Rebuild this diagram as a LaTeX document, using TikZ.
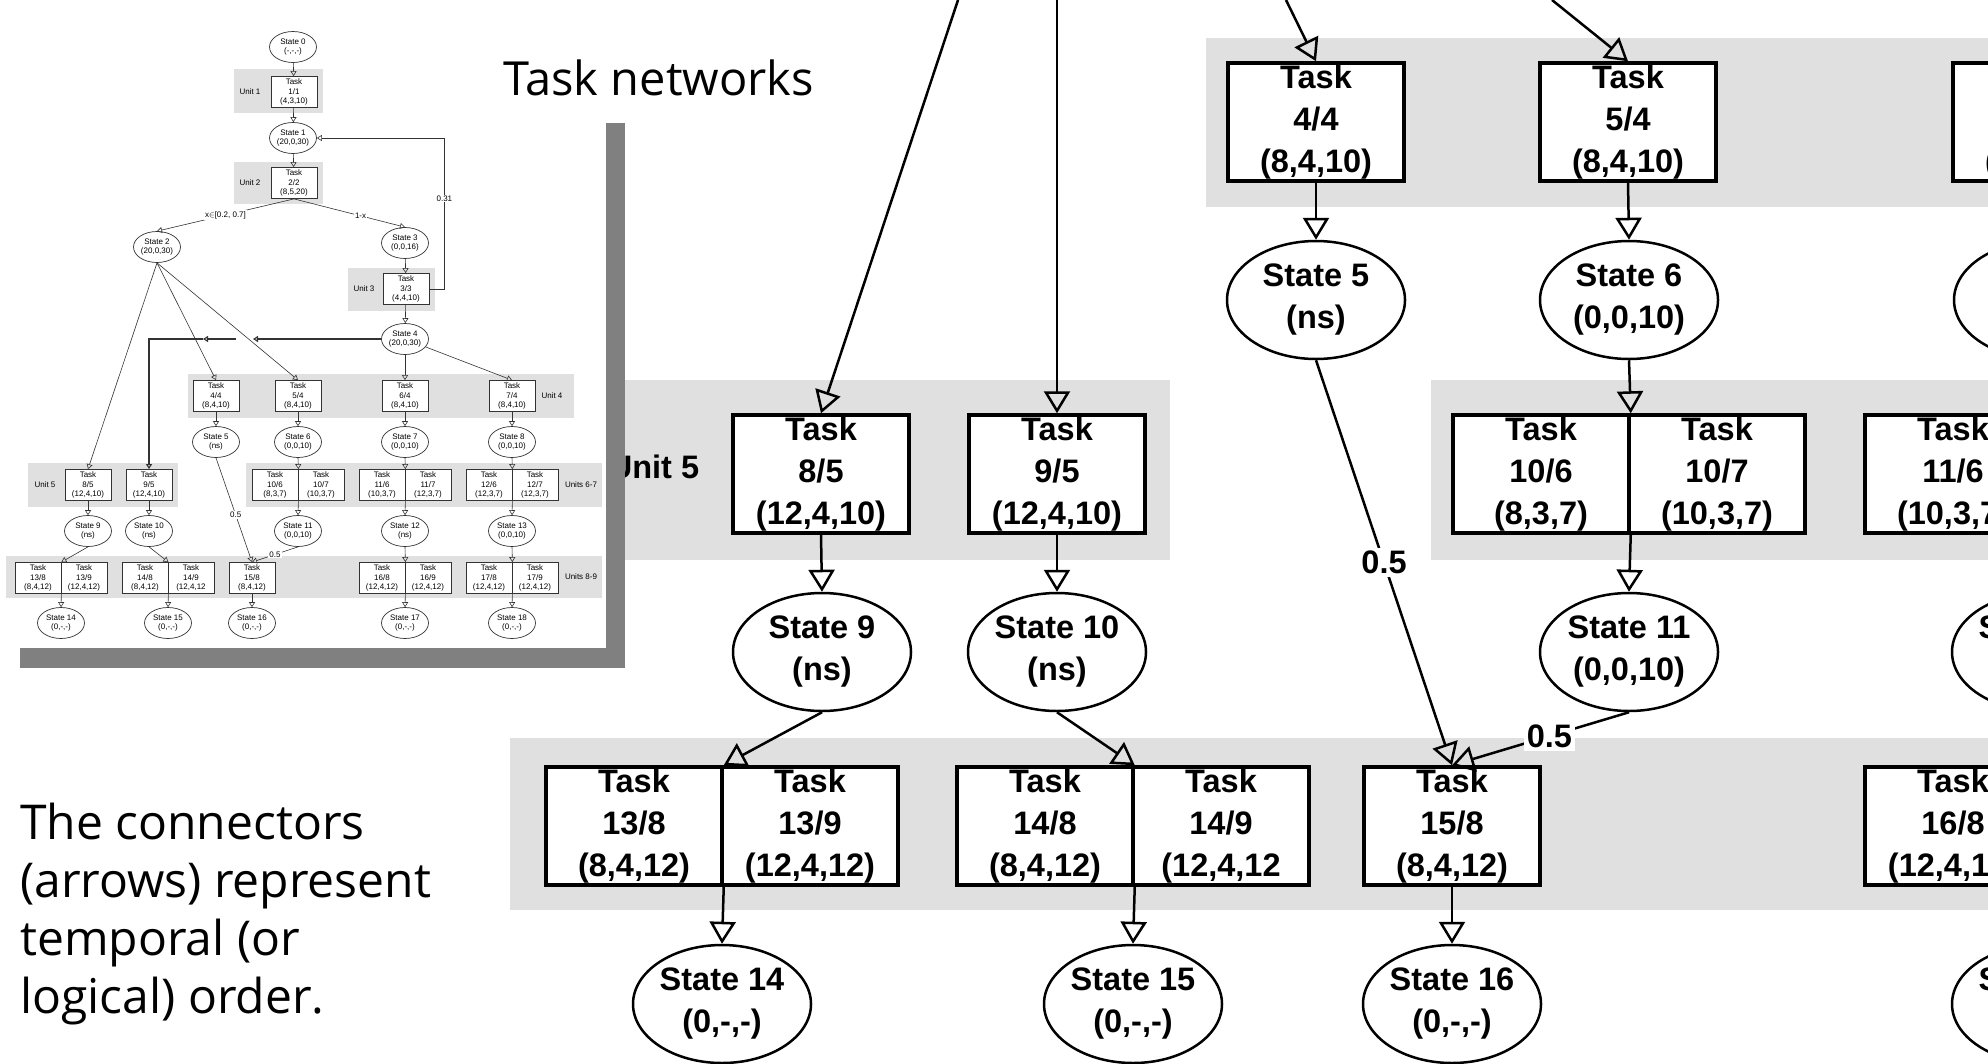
\documentclass[tikz,border=0pt]{standalone}
\usepackage{fontspec}
\setmainfont{Liberation Sans}
\newfontfamily\handfont{Open Sans}
\usetikzlibrary{arrows.meta,shapes.geometric}
\definecolor{bandgray}{HTML}{E0E0E0}
\definecolor{shadowgray}{HTML}{808080}
\definecolor{thumbline}{HTML}{333333}

\tikzset{
    task/.style = {draw, rectangle, fill = white, line width = 3.5pt, minimum width = 176pt, minimum height = 118pt, inner sep = 0pt, align = center, font = \fontsize{32.5}{42}\selectfont\bfseries},
    state/.style = {draw, ellipse, fill = white, line width = 2.5pt, minimum width = 178pt, minimum height = 118pt, inner sep = 0pt, align = center, font = \fontsize{32.5}{42}\selectfont\bfseries},
    link/.style = {-{Triangle[open, width = 26pt, length = 22pt]}, line width = 2.5pt},
    prob/.style = {fill = white, inner sep = 3pt, font = \fontsize{32.5}{36}\selectfont\bfseries},
    unitlabel/.style = {font = \fontsize{32.5}{36}\selectfont\bfseries},
    ttask/.style = {draw = thumbline, rectangle, fill = white, line width = 0.8pt, minimum width = 46pt, minimum height = 31pt, inner sep = 0pt, align = center, font = \fontsize{8}{9.5}\selectfont},
    tstate/.style = {draw = thumbline, ellipse, fill = white, line width = 0.7pt, minimum width = 47pt, minimum height = 31pt, inner sep = 0pt, align = center, font = \fontsize{8}{9.5}\selectfont},
    tlink/.style = {-{Triangle[open, width = 6pt, length = 5pt]}, draw = thumbline, line width = 0.6pt},
    tprob/.style = {fill = white, inner sep = 1pt, font = \fontsize{8}{9}\selectfont},
    tunit/.style = {font = \fontsize{8}{9}\selectfont}
}

\begin{document}
\begin{tikzpicture}
        \useasboundingbox (0pt, 0pt) rectangle (1988pt, -1063pt);
        \clip (0pt, 0pt) rectangle (1988pt, -1063pt);
        \fill [white] (0pt, 0pt) rectangle (1988pt, -1063pt);

        % Unit bands
        \fill [bandgray] (1206pt, -38pt) rectangle (1995pt, -207pt);
        \fill [bandgray] (510pt, -380pt) rectangle (1170pt, -560pt);
        \fill [bandgray] (1431pt, -380pt) rectangle (1995pt, -560pt);
        \fill [bandgray] (510pt, -738pt) rectangle (1995pt, -910pt);
        \node [unitlabel] (u5) at (654pt, -467pt) {Unit 5};

        % Nodes
        \node [task] (t44) at (1316pt, -122pt) {Task\\4/4\\(8,4,10)};
        \node [task] (t54) at (1628pt, -122pt) {Task\\5/4\\(8,4,10)};
        \node [task] (t64) at (2041pt, -122pt) {Task\\6/4\\(8,4,10)};
        \node [state] (s5) at (1316pt, -300pt) {State 5\\(ns)};
        \node [state] (s6) at (1629pt, -300pt) {State 6\\(0,0,10)};
        \node [state] (s7) at (2043pt, -300pt) {State 7\\(0,0,10)};

        \node [task] (t85) at (821pt, -474pt) {Task\\8/5\\(12,4,10)};
        \node [task] (t95) at (1057pt, -474pt) {Task\\9/5\\(12,4,10)};
        \node [task] (t106) at (1541pt, -474pt) {Task\\10/6\\(8,3,7)};
        \node [task] (t107) at (1717pt, -474pt) {Task\\10/7\\(10,3,7)};
        \node [task] (t116) at (1953pt, -474pt) {Task\\11/6\\(10,3,7)};
        \node [task] (t117) at (2129pt, -474pt) {Task\\11/7\\(12,3,7)};

        \node [state] (s9) at (822pt, -652pt) {State 9\\(ns)};
        \node [state] (s10) at (1057pt, -652pt) {State 10\\(ns)};
        \node [state] (s11) at (1629pt, -652pt) {State 11\\(0,0,10)};
        \node [state] (s12) at (2041pt, -652pt) {State 12\\(ns)};

        \node [task] (t138) at (634pt, -826pt) {Task\\13/8\\(8,4,12)};
        \node [task] (t139) at (810pt, -826pt) {Task\\13/9\\(12,4,12)};
        \node [task] (t148) at (1045pt, -826pt) {Task\\14/8\\(8,4,12)};
        \node [task] (t149) at (1221pt, -826pt) {Task\\14/9\\(12,4,12};
        \node [task] (t158) at (1452pt, -826pt) {Task\\15/8\\(8,4,12)};
        \node [task] (t168) at (1953pt, -826pt) {Task\\16/8\\(12,4,12)};
        \node [task] (t169) at (2129pt, -826pt) {Task\\16/9\\(12,4,12)};

        \node [state] (s14) at (722pt, -1004pt) {State 14\\(0,-,-)};
        \node [state] (s15) at (1133pt, -1004pt) {State 15\\(0,-,-)};
        \node [state] (s16) at (1452pt, -1004pt) {State 16\\(0,-,-)};
        \node [state] (s17) at (2041pt, -1004pt) {State 17\\(0,-,-)};

        % Draw the links
        \coordinate (in85) at (958pt, 0pt);
        \coordinate (in95) at (1057pt, 0pt);
        \coordinate (in44) at (1286pt, 0pt);
        \coordinate (in54) at (1552pt, 0pt);
        \draw [link] (in85) -- (t85.north);
        \draw [link] (in95) -- (t95.north);
        \draw [link] (in44) -- (t44.north);
        \draw [link] (in54) -- (t54.north);
        \draw [link] (t44.south) -- (s5.north);
        \draw [link] (t54.south) -- (s6.north);
        \draw [link] (t85.south) -- (s9.north);
        \draw [link] (t95.south) -- (s10.north);
        \draw [link] (s6.south) -- (t106.north east);
        \draw [link] (t106.south east) -- (s11.north);
        \draw [link] (s9.south) -- (t138.north east);
        \draw [link] (s10.south) -- (t148.north east);
        \draw [link] (t138.south east) -- (s14.north);
        \draw [link] (t148.south east) -- (s15.north);
        \draw [link] (t158.south) -- (s16.north);
        \draw [link] (s5.south) -- node [prob] {0.5} (t158.north);
        \draw [link] (s11.south) -- node [prob, pos = 0.45] {0.5} (t158.north);

        % Overview (thumbnail)
        \fill [white] (0pt, 0pt) rectangle (606pt, -648pt);
        \fill [shadowgray] (606pt, -123pt) rectangle (625pt, -668pt);
        \fill [shadowgray] (20pt, -648pt) rectangle (625pt, -668pt);

        \fill [bandgray] (234pt, -69pt) rectangle (323pt, -113pt);
        \fill [bandgray] (234pt, -162pt) rectangle (323pt, -204pt);
        \fill [bandgray] (348pt, -268pt) rectangle (435pt, -311pt);
        \fill [bandgray] (188pt, -374pt) rectangle (574pt, -418pt);
        \fill [bandgray] (28pt, -463pt) rectangle (178pt, -507pt);
        \fill [bandgray] (246pt, -463pt) rectangle (602pt, -507pt);
        \fill [bandgray] (6pt, -556pt) rectangle (602pt, -598pt);
        \node [tunit] (tu1) at (250pt, -92pt) {Unit 1};
        \node [tunit] (tu2) at (250pt, -183pt) {Unit 2};
        \node [tunit] (tu3) at (364pt, -289pt) {Unit 3};
        \node [tunit] (tu4) at (552pt, -396pt) {Unit 4};
        \node [tunit] (tu5) at (45pt, -485pt) {Unit 5};
        \node [tunit] (tu67) at (581pt, -485pt) {Units 6-7};
        \node [tunit] (tu89) at (581pt, -577pt) {Units 8-9};

        \node [tstate] (ts0) at (293pt, -47pt) {State 0\\(-,-,-)};
        \node [ttask] (tt1) at (294pt, -92pt) {Task\\1/1\\(4,3,10)};
        \node [tstate] (ts1) at (293pt, -138pt) {State 1\\(20,0,30)};
        \node [ttask] (tt2) at (294pt, -183pt) {Task\\2/2\\(8,5,20)};
        \node [tstate] (ts2) at (157pt, -247pt) {State 2\\(20,0,30)};
        \node [tstate] (ts3) at (405pt, -243pt) {State 3\\(0,0,16)};
        \node [ttask] (tt3) at (406pt, -289pt) {Task\\3/3\\(4,4,10)};
        \node [tstate] (ts4) at (405pt, -339pt) {State 4\\(20,0,30)};

        \node [ttask] (tt4) at (216pt, -396pt) {Task\\4/4\\(8,4,10)};
        \node [ttask] (tt5) at (298pt, -396pt) {Task\\5/4\\(8,4,10)};
        \node [ttask] (tt6) at (405pt, -396pt) {Task\\6/4\\(8,4,10)};
        \node [ttask] (tt7) at (512pt, -396pt) {Task\\7/4\\(8,4,10)};
        \node [tstate] (ts5) at (216pt, -442pt) {State 5\\(ns)};
        \node [tstate] (ts6) at (298pt, -442pt) {State 6\\(0,0,10)};
        \node [tstate] (ts7) at (405pt, -442pt) {State 7\\(0,0,10)};
        \node [tstate] (ts8) at (512pt, -442pt) {State 8\\(0,0,10)};

        \node [ttask] (tt8) at (88pt, -485pt) {Task\\8/5\\(12,4,10)};
        \node [ttask] (tt9) at (149pt, -485pt) {Task\\9/5\\(12,4,10)};
        \node [ttask] (tt10a) at (275pt, -485pt) {Task\\10/6\\(8,3,7)};
        \node [ttask] (tt10b) at (321pt, -485pt) {Task\\10/7\\(10,3,7)};
        \node [ttask] (tt11a) at (382pt, -485pt) {Task\\11/6\\(10,3,7)};
        \node [ttask] (tt11b) at (428pt, -485pt) {Task\\11/7\\(12,3,7)};
        \node [ttask] (tt12a) at (489pt, -485pt) {Task\\12/6\\(12,3,7)};
        \node [ttask] (tt12b) at (535pt, -485pt) {Task\\12/7\\(12,3,7)};
        \node [tstate] (ts9) at (88pt, -531pt) {State 9\\(ns)};
        \node [tstate] (ts10) at (149pt, -531pt) {State 10\\(ns)};
        \node [tstate] (ts11) at (298pt, -531pt) {State 11\\(0,0,10)};
        \node [tstate] (ts12) at (405pt, -531pt) {State 12\\(ns)};
        \node [tstate] (ts13) at (512pt, -531pt) {State 13\\(0,0,10)};

        \node [ttask] (tt13a) at (38pt, -578pt) {Task\\13/8\\(8,4,12)};
        \node [ttask] (tt13b) at (84pt, -578pt) {Task\\13/9\\(12,4,12)};
        \node [ttask] (tt14a) at (145pt, -578pt) {Task\\14/8\\(8,4,12)};
        \node [ttask] (tt14b) at (191pt, -578pt) {Task\\14/9\\(12,4,12};
        \node [ttask] (tt15) at (252pt, -578pt) {Task\\15/8\\(8,4,12)};
        \node [ttask] (tt16a) at (382pt, -578pt) {Task\\16/8\\(12,4,12)};
        \node [ttask] (tt16b) at (428pt, -578pt) {Task\\16/9\\(12,4,12)};
        \node [ttask] (tt17a) at (489pt, -578pt) {Task\\17/8\\(12,4,12)};
        \node [ttask] (tt17b) at (535pt, -578pt) {Task\\17/9\\(12,4,12)};
        \node [tstate] (ts14) at (61pt, -623pt) {State 14\\(0,-,-)};
        \node [tstate] (ts15) at (168pt, -623pt) {State 15\\(0,-,-)};
        \node [tstate] (ts16) at (252pt, -623pt) {State 16\\(0,-,-)};
        \node [tstate] (ts17) at (405pt, -623pt) {State 17\\(0,-,-)};
        \node [tstate] (ts18) at (512pt, -623pt) {State 18\\(0,-,-)};

        % Overview links
        \draw [tlink] (ts0) -- (tt1);
        \draw [tlink] (tt1) -- (ts1);
        \draw [tlink] (ts1) -- (tt2);
        \draw [tlink] (tt2.south) -- node [tprob] {x$\in$[0.2, 0.7]} (ts2.north);
        \draw [tlink] (tt2.south) -- node [tprob, pos = 0.6] {1-x} (ts3.north);
        \draw [tlink] (ts3) -- (tt3);
        \draw [tlink] (tt3) -- (ts4);
        \draw [tlink] (tt3.east) -- ++(15pt, 0pt) |- node [tprob, pos = 0.3] {0.31} (ts1.east);
        \draw [tlink] (ts2.south) -- (tt8.north);
        \draw [tlink] (ts2.south) -- (tt4.north);
        \draw [tlink] (ts2.south) -- (tt5.north);
        \coordinate (hopR) at (253pt, -339pt);
        \coordinate (hopL) at (236pt, -339pt);
        \coordinate (tmark) at (203pt, -339pt);
        \draw [tlink, line width = 1.1pt] (ts4.west) -- (hopR);
        \draw [tlink, line width = 1.1pt] (hopL) -- (tmark);
        \draw [tlink, line width = 1.1pt] (tmark) -- (tt9.north |- tmark) -- (tt9.north);
        \draw [tlink] (ts4) -- (tt6);
        \draw [tlink] (ts4) -- (tt7.north);
        \draw [tlink] (tt4) -- (ts5);
        \draw [tlink] (tt5) -- (ts6);
        \draw [tlink] (tt6) -- (ts7);
        \draw [tlink] (tt7) -- (ts8);
        \draw [tlink] (ts6.south) -- (tt10a.north east);
        \draw [tlink] (ts7.south) -- (tt11a.north east);
        \draw [tlink] (ts8.south) -- (tt12a.north east);
        \draw [tlink] (tt8) -- (ts9);
        \draw [tlink] (tt9) -- (ts10);
        \draw [tlink] (tt10a.south east) -- (ts11.north);
        \draw [tlink] (tt11a.south east) -- (ts12.north);
        \draw [tlink] (tt12a.south east) -- (ts13.north);
        \draw [tlink] (ts9.south) -- (tt13a.north east);
        \draw [tlink] (ts10.south) -- (tt14a.north east);
        \draw [tlink] (ts5.south) -- node [tprob, pos = 0.55] {0.5} (tt15.north);
        \draw [tlink] (ts11.south) -- node [tprob] {0.5} (tt15.north);
        \draw [tlink] (ts12.south) -- (tt16a.north east);
        \draw [tlink] (ts13.south) -- (tt17a.north east);
        \draw [tlink] (tt13a.south east) -- (ts14.north);
        \draw [tlink] (tt14a.south east) -- (ts15.north);
        \draw [tlink] (tt15) -- (ts16);
        \draw [tlink] (tt16a.south east) -- (ts17.north);
        \draw [tlink] (tt17a.south east) -- (ts18.north);

        % Slide texts
        \node [anchor = base west, inner sep = 0pt, font = \handfont\fontsize{47}{56}\selectfont] (title) at (503pt, -95pt) {Task networks};
        \node [anchor = north west, inner sep = 0pt, align = left, font = \handfont\fontsize{48}{58}\selectfont] (note) at (20pt, -803pt) {The connectors\\(arrows) represent\\temporal (or\\logical) order.};

    \end{tikzpicture}
\end{document}
